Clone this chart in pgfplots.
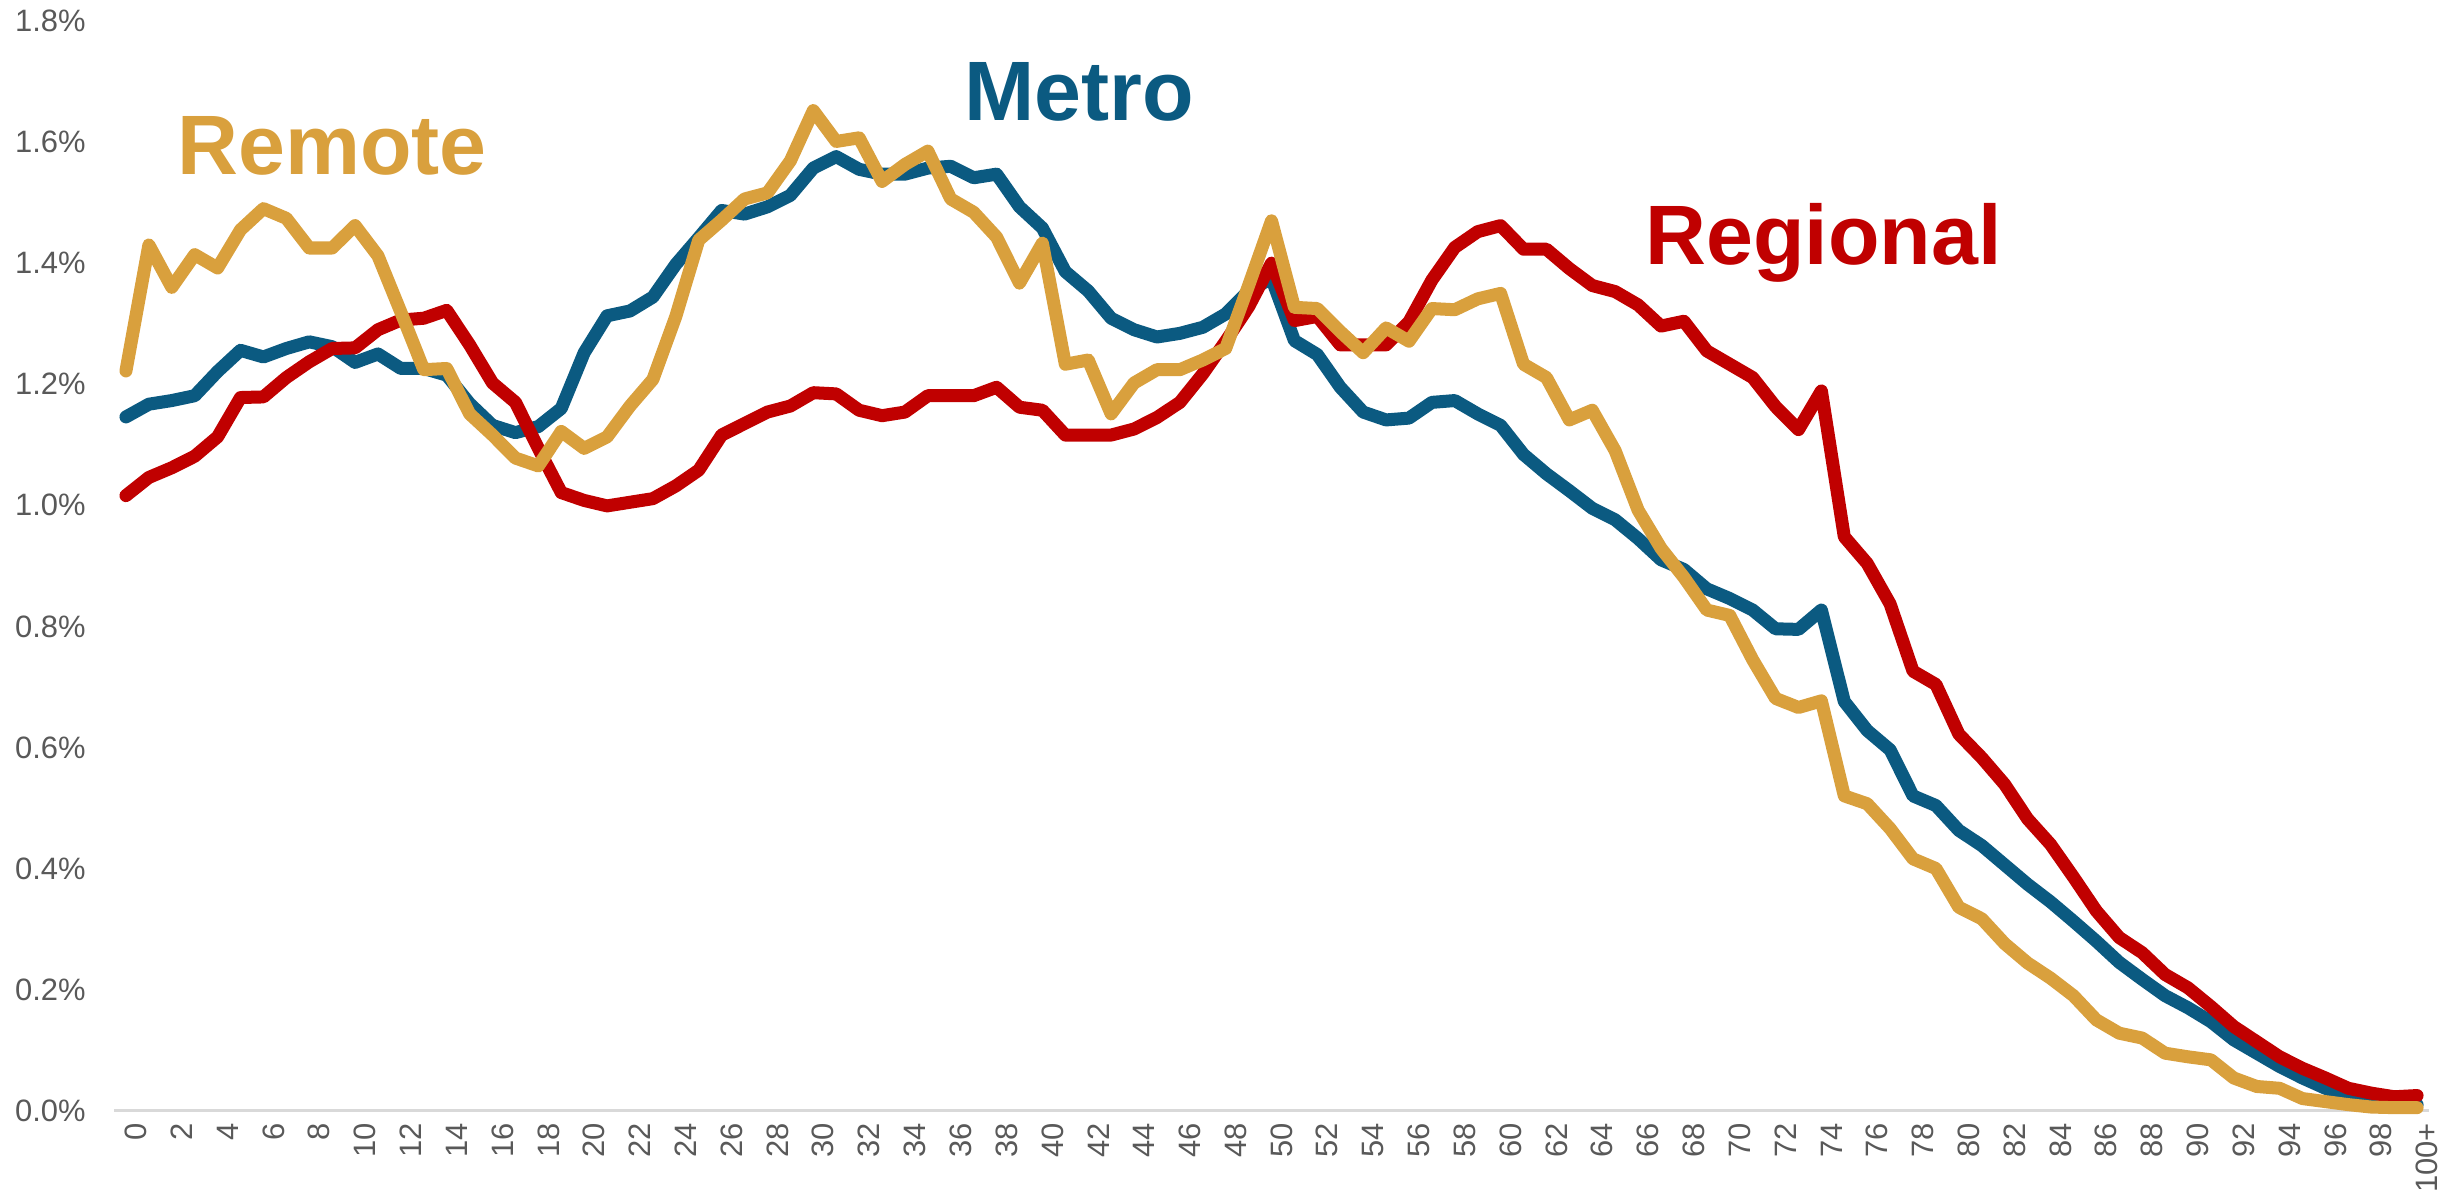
\documentclass[border=0pt]{standalone}
\usepackage{pgfplots}
\usepackage{pgfplotstable}
\pgfplotsset{compat=1.18}
\usepackage{fontspec}
\setmainfont{Liberation Sans}
\definecolor{metro}{HTML}{0B5A81}
\definecolor{regional}{HTML}{C00000}
\definecolor{remote}{HTML}{D9A03D}
\definecolor{ticklab}{HTML}{595959}
\definecolor{axisline}{HTML}{D9D9D9}
\pgfplotstableread{
age metro regional remote
0 1.146 1.016 1.222
1 1.167 1.046 1.430
2 1.173 1.062 1.360
3 1.181 1.081 1.414
4 1.221 1.113 1.392
5 1.256 1.178 1.455
6 1.245 1.179 1.490
7 1.259 1.211 1.474
8 1.270 1.237 1.425
9 1.262 1.259 1.425
10 1.236 1.260 1.462
11 1.250 1.290 1.412
12 1.226 1.306 1.319
13 1.226 1.309 1.224
14 1.215 1.322 1.226
15 1.168 1.265 1.151
16 1.132 1.202 1.116
17 1.120 1.170 1.078
18 1.130 1.094 1.065
19 1.160 1.021 1.122
20 1.252 1.008 1.094
21 1.313 0.999 1.113
22 1.321 1.005 1.164
23 1.344 1.011 1.208
24 1.398 1.032 1.312
25 1.442 1.058 1.438
26 1.487 1.116 1.471
27 1.481 1.135 1.506
28 1.493 1.154 1.516
29 1.512 1.164 1.569
30 1.557 1.186 1.652
31 1.576 1.184 1.601
32 1.555 1.157 1.607
33 1.547 1.148 1.535
34 1.547 1.154 1.563
35 1.557 1.181 1.585
36 1.560 1.181 1.506
37 1.541 1.181 1.484
38 1.547 1.195 1.443
39 1.493 1.162 1.367
40 1.458 1.157 1.433
41 1.386 1.116 1.233
42 1.354 1.116 1.240
43 1.309 1.116 1.151
44 1.290 1.126 1.202
45 1.278 1.145 1.224
46 1.284 1.170 1.224
47 1.294 1.217 1.240
48 1.316 1.271 1.259
49 1.354 1.328 1.363
50 1.375 1.400 1.470
51 1.272 1.305 1.327
52 1.249 1.312 1.325
53 1.195 1.265 1.287
54 1.154 1.265 1.252
55 1.141 1.265 1.293
56 1.144 1.303 1.271
57 1.170 1.372 1.325
58 1.173 1.426 1.323
59 1.151 1.452 1.341
60 1.132 1.462 1.350
61 1.084 1.423 1.233
62 1.052 1.423 1.211
63 1.024 1.391 1.141
64 0.995 1.363 1.157
65 0.976 1.353 1.090
66 0.945 1.331 0.992
67 0.910 1.296 0.929
68 0.894 1.304 0.881
69 0.862 1.255 0.827
70 0.846 1.233 0.818
71 0.827 1.211 0.745
72 0.796 1.163 0.681
73 0.795 1.125 0.666
74 0.827 1.189 0.677
75 0.676 0.948 0.520
76 0.628 0.904 0.507
77 0.596 0.837 0.466
78 0.520 0.726 0.416
79 0.504 0.704 0.400
80 0.463 0.622 0.336
81 0.438 0.583 0.317
82 0.406 0.539 0.276
83 0.374 0.482 0.244
84 0.345 0.440 0.219
85 0.313 0.386 0.190
86 0.280 0.330 0.150
87 0.245 0.286 0.128
88 0.217 0.261 0.120
89 0.190 0.225 0.095
90 0.170 0.203 0.089
91 0.147 0.172 0.084
92 0.117 0.139 0.054
93 0.095 0.114 0.040
94 0.073 0.089 0.037
95 0.054 0.070 0.020
96 0.037 0.054 0.015
97 0.023 0.037 0.010
98 0.016 0.029 0.006
99 0.012 0.023 0.005
100 0.010 0.025 0.005
}\datatable
\begin{document}
\begin{tikzpicture}
\begin{axis}[
  scale only axis,
  width=23.14cm, height=10.897cm,
  xmin=-0.5, xmax=100.5, ymin=0, ymax=1.8,
  axis x line=bottom, axis y line=left,
  x axis line style={-, draw=axisline, line width=0.8pt},
  y axis line style={draw=none},
  major tick length=0pt,
  xtick={0,2,...,100},
  xticklabels={0,2,4,6,8,10,12,14,16,18,20,22,24,26,28,30,32,34,36,38,40,42,44,46,48,50,52,54,56,58,60,62,64,66,68,70,72,74,76,78,80,82,84,86,88,90,92,94,96,98,100+},
  ytick={0,0.2,...,1.8},
  yticklabels={0.0\%,0.2\%,0.4\%,0.6\%,0.8\%,1.0\%,1.2\%,1.4\%,1.6\%,1.8\%},
  tick label style={font=\fontsize{8.8}{10}\selectfont, text=ticklab},
  xticklabel style={rotate=90, anchor=east, yshift=-0.1cm},
  yticklabel style={xshift=-0.165cm},
  clip=false,
]
\addplot[metro, line width=3.7pt, line join=round, line cap=round] table[x=age, y=metro] {\datatable};
\addplot[regional, line width=3.7pt, line join=round, line cap=round] table[x=age, y=regional] {\datatable};
\addplot[remote, line width=3.7pt, line join=round, line cap=round] table[x=age, y=remote] {\datatable};
\node[anchor=base, text=remote, font=\fontsize{24}{28}\selectfont\bfseries] at (axis cs:9.0,1.546) {Remote};
\node[anchor=base, text=metro, font=\fontsize{24}{28}\selectfont\bfseries] at (axis cs:41.6,1.635) {Metro};
\node[anchor=base, text=regional, font=\fontsize{24}{28}\selectfont\bfseries] at (axis cs:74.1,1.398) {Regional};
\end{axis}
\pgfresetboundingbox
\path ([shift={(-1.145cm,-0.913cm)}]current axis.south west) rectangle ++(24.4cm,12.02cm);
\end{tikzpicture}
\end{document}
